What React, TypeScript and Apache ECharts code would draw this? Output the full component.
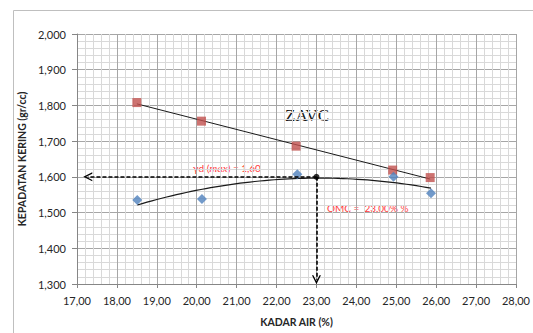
import React, { useEffect, useRef } from "react";
import * as echarts from "echarts";

// Zero air voids (ZAV) points
const zavX = [18.5, 20.12, 22.49, 24.91, 25.85];
const zavY = [1.808, 1.756, 1.686, 1.619, 1.598];
// Compaction test points
const testX = [18.51, 20.13, 22.52, 24.93, 25.87];
const testY = [1.535, 1.538, 1.607, 1.6, 1.554];
// Annotation values
const omc = 23.0;
const gdMax = 1.6;
const arrowLeftEnd = 17.27;
const arrowBottomEnd = 1.312;
const xTicks = { min: 17, max: 28, interval: 1 };
const yTicks = { min: 1.3, max: 2.0, interval: 0.1 };

function linFit(xs: number[], ys: number[]) {
  const n = xs.length;
  const mx = xs.reduce((a, b) => a + b, 0) / n;
  const my = ys.reduce((a, b) => a + b, 0) / n;
  let sxy = 0, sxx = 0;
  for (let i = 0; i < n; i++) {
    sxy += (xs[i] - mx) * (ys[i] - my);
    sxx += (xs[i] - mx) * (xs[i] - mx);
  }
  const m = sxy / sxx;
  return (x: number) => my + m * (x - mx);
}

function quadFit(xs: number[], ys: number[]) {
  const S = [0, 0, 0, 0, 0];
  const T = [0, 0, 0];
  for (let i = 0; i < xs.length; i++) {
    for (let k = 0; k < 5; k++) S[k] += Math.pow(xs[i], k);
    for (let k = 0; k < 3; k++) T[k] += ys[i] * Math.pow(xs[i], k);
  }
  const M = [
    [S[0], S[1], S[2], T[0]],
    [S[1], S[2], S[3], T[1]],
    [S[2], S[3], S[4], T[2]],
  ];
  for (let c = 0; c < 3; c++) {
    let p = c;
    for (let r = c + 1; r < 3; r++) if (Math.abs(M[r][c]) > Math.abs(M[p][c])) p = r;
    [M[c], M[p]] = [M[p], M[c]];
    for (let r = 0; r < 3; r++) {
      if (r === c) continue;
      const f = M[r][c] / M[c][c];
      for (let k = c; k < 4; k++) M[r][k] -= f * M[c][k];
    }
  }
  const a = M[0][3] / M[0][0], b = M[1][3] / M[1][1], c2 = M[2][3] / M[2][2];
  return (x: number) => a + b * x + c2 * x * x;
}

const chevron = "path://M0,10 L5,0 L10,10 L8.4,10 L5,3.2 L1.6,10 Z";

export default function App() {
  const ref = useRef<HTMLDivElement>(null);
  useEffect(() => {
    document.body.style.margin = "0";
    const chart = echarts.init(ref.current!, null, { renderer: "svg" });
    const lf = linFit(zavX, zavY);
    const zx0 = Math.min(...zavX), zx1 = Math.max(...zavX);
    const zavLine = [[zx0, lf(zx0)], [zx1, lf(zx1)]];
    const qf = quadFit(testX, testY);
    const tx0 = Math.min(...testX), tx1 = Math.max(...testX);
    const curve: number[][] = [];
    const steps = 60;
    for (let i = 0; i <= steps; i++) {
      const x = tx0 + ((tx1 - tx0) * i) / steps;
      curve.push([x, qf(x)]);
    }
    const font = "Lato, 'Open Sans', sans-serif";
    const red = "#ff3b3b";
    chart.setOption({
      animation: false,
      grid: { left: 77, top: 34, width: 440, height: 250, containLabel: false },
      xAxis: {
        type: "value",
        min: xTicks.min,
        max: xTicks.max,
        interval: xTicks.interval,
        name: "KADAR AIR (%)",
        nameLocation: "middle",
        nameGap: 32,
        nameTextStyle: { fontFamily: font, fontWeight: "bold", fontSize: 10.5, color: "#262626" },
        axisLine: { show: true, lineStyle: { color: "#868686" } },
        axisTick: { show: true, length: 4, lineStyle: { color: "#868686" } },
        axisLabel: {
          margin: 11,
          fontFamily: font,
          fontSize: 11,
          color: "#262626",
          formatter: (v: number) => v.toFixed(2).replace(".", ","),
        },
        splitLine: { show: true, lineStyle: { color: "#a6a6a6", width: 1 } },
        minorTick: { show: false, splitNumber: 5 },
        minorSplitLine: { show: true, lineStyle: { color: "#d9d9d9", width: 1 } },
      },
      yAxis: {
        type: "value",
        min: yTicks.min,
        max: yTicks.max,
        interval: yTicks.interval,
        name: "KEPADATAN KERING (gr/cc)",
        nameLocation: "middle",
        nameGap: 45,
        nameRotate: 90,
        nameTextStyle: { fontFamily: font, fontWeight: "bold", fontSize: 10.5, color: "#262626" },
        axisLine: { show: true, lineStyle: { color: "#868686" } },
        axisTick: { show: true, length: 5, lineStyle: { color: "#868686" } },
        axisLabel: {
          margin: 11,
          fontFamily: font,
          fontSize: 11,
          color: "#262626",
          formatter: (v: number) => v.toFixed(3).replace(".", ","),
        },
        splitLine: { show: true, lineStyle: { color: "#a6a6a6", width: 1 } },
        minorTick: { show: false, splitNumber: 5 },
        minorSplitLine: { show: true, lineStyle: { color: "#d9d9d9", width: 1 } },
      },
      series: [
        {
          type: "line",
          data: zavLine,
          symbol: "none",
          lineStyle: { color: "#1a1a1a", width: 1 },
          silent: true,
          z: 3,
        },
        {
          type: "line",
          data: curve,
          symbol: "none",
          lineStyle: { color: "#1a1a1a", width: 1.2 },
          silent: true,
          z: 3,
        },
        {
          type: "scatter",
          data: zavX.map((x, i) => [x, zavY[i]]),
          symbol: "rect",
          symbolSize: 9,
          itemStyle: { color: "#c0504d" },
          z: 4,
        },
        {
          type: "scatter",
          data: testX.map((x, i) => [x, testY[i]]),
          symbol: "diamond",
          symbolSize: 10,
          itemStyle: { color: "#4f81bd" },
          z: 4,
        },
        {
          type: "scatter",
          data: [[omc, gdMax]],
          symbol: "circle",
          symbolSize: 6,
          itemStyle: { color: "#000" },
          z: 6,
          markLine: {
            silent: true,
            symbol: ["none", chevron],
            symbolSize: 9,
            label: { show: false },
            lineStyle: { color: "#000", type: [4, 2], width: 1.6 },
            emphasis: { disabled: true },
            data: [
              [{ coord: [omc, gdMax] }, { coord: [arrowLeftEnd, gdMax] }],
              [{ coord: [omc, gdMax] }, { coord: [omc, arrowBottomEnd] }],
            ],
          },
        },
      ],
      graphic: [
        {
          type: "rect",
          shape: { x: 13.5, y: 10.5, width: 540, height: 340 },
          style: { fill: "none", stroke: "#bfbfbf", lineWidth: 1 },
          silent: true,
        },
        {
          type: "text",
          x: 285,
          y: 115,
          style: {
            text: "ZAVC",
            font: "17px 'Liberation Serif', serif",
            fill: "#1a1a1a",
            verticalAlign: "middle",
          },
        },
        {
          type: "text",
          x: 227,
          y: 168,
          style: {
            text: "{n|γd (}{i|max}{n|) = 1,60}",
            align: "center",
            verticalAlign: "middle",
            rich: {
              n: { fontFamily: font, fontSize: 10, fill: red },
              i: { fontFamily: "'Liberation Serif', serif", fontStyle: "italic", fontSize: 11, fill: red },
            },
          },
        },
        {
          type: "text",
          x: 327,
          y: 208,
          style: {
            text: "OMC =  23,00% %",
            fontFamily: font,
            fontSize: 10,
            fill: red,
            verticalAlign: "middle",
          },
        },
      ],
    });
    return () => chart.dispose();
  }, []);
  return <div ref={ref} style={{ width: 533, height: 333 }} />;
}
